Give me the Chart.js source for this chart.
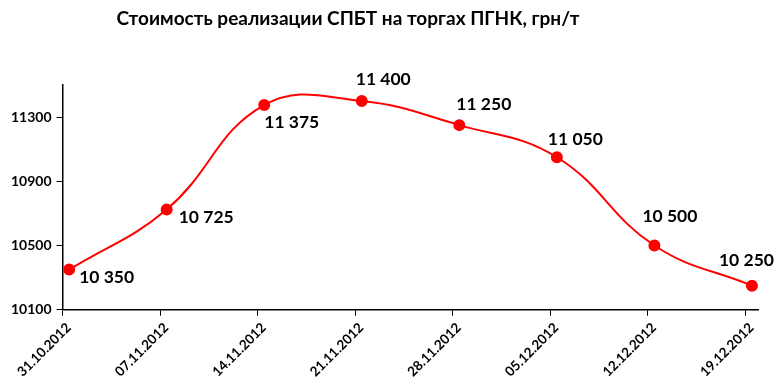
<!DOCTYPE html>
<html>
<head>
<meta charset="utf-8">
<script src="https://cdn.jsdelivr.net/npm/chart.js@4.4.1/dist/chart.umd.min.js"></script>
<style>
html,body{margin:0;padding:0;background:#fff;}
#wrap{width:776px;height:384px;position:relative;}
</style>
</head>
<body>
<div id="wrap"><canvas id="c" width="776" height="384"></canvas></div>
<script>
const chartTitle = "Стоимость реализации СПБТ на торгах ПГНК, грн/т";
const categories = ["31.10.2012","07.11.2012","14.11.2012","21.11.2012","28.11.2012","05.12.2012","12.12.2012","19.12.2012"];
const prices = [10350, 10725, 11375, 11400, 11250, 11050, 10500, 10250];
const yTicks = [10100, 10500, 10900, 11300];

// label placement per point: [dx, dy]
const labelPlacement = [
  [10, 8], [12, 8], [0, 17], [-6, -22],
  [-3, -21], [-9, -18], [-12, -29], [-33, -25]
];

function fmt(v){ return String(v).replace(/\B(?=(\d{3})+(?!\d))/g, ' '); }

const FONT = "Lato, 'Open Sans', 'DejaVu Sans', sans-serif";
const TICK_SHIFT = 0.067;

const labelPlugin = {
  id: 'labels',
  afterDatasetsDraw(chart){
    const ctx = chart.ctx;
    const meta = chart.getDatasetMeta(0);
    ctx.save();
    ctx.fillStyle = '#000';
    ctx.font = "bold 17.5px " + FONT;
    ctx.textBaseline = 'middle';
    ctx.textAlign = 'left';
    meta.data.forEach((pt, i) => {
      const p = labelPlacement[i];
      ctx.fillText(fmt(prices[i]), pt.x + p[0], pt.y + p[1]);
    });
    ctx.restore();
  }
};

const titlePlugin = {
  id: 'customTitle',
  afterDraw(chart){
    const ctx = chart.ctx;
    ctx.save();
    ctx.fillStyle = '#000';
    ctx.font = "bold 19px " + FONT;
    ctx.textAlign = 'center';
    ctx.textBaseline = 'middle';
    ctx.fillText(chartTitle, 348, 19);
    ctx.restore();
  }
};

new Chart(document.getElementById('c'), {
  type: 'line',
  data: {
    datasets: [{
      data: prices.map((v, i) => ({ x: i, y: v })),
      borderColor: '#ff0000',
      backgroundColor: '#ff0000',
      borderWidth: 2,
      pointRadius: 5,
      pointHoverRadius: 5,
      pointBackgroundColor: '#ff0000',
      pointBorderColor: '#ff0000',
      tension: 0.42,
      fill: false
    }]
  },
  options: {
    responsive: false,
    animation: false,
    events: [],
    layout: { padding: { top: 85, left: 6, right: 18, bottom: 0 } },
    plugins: { legend: { display: false }, tooltip: { enabled: false }, title: { display: false } },
    scales: {
      x: {
        type: 'linear',
        min: -TICK_SHIFT, max: categories.length - 1 + 0.062,
        afterBuildTicks(axis){ axis.ticks = categories.map((c, i) => ({ value: i - TICK_SHIFT })); },
        grid: { drawOnChartArea: false, drawTicks: true, tickLength: 6, color: '#000' },
        border: { color: '#000', width: 1.5 },
        ticks: {
          color: '#000',
          font: { family: FONT, weight: 'bold', size: 13.5 },
          maxRotation: 45, minRotation: 45, autoSkip: false, padding: 4,
          labelOffset: 6,
          callback: (v, idx) => categories[idx]
        }
      },
      y: {
        min: 10100, max: 11500,
        afterBuildTicks(axis){ axis.ticks = yTicks.map(v => ({ value: v })); },
        grid: { drawOnChartArea: false, drawTicks: true, tickLength: 6, color: '#000' },
        border: { color: '#000', width: 1.5 },
        ticks: {
          color: '#000',
          font: { family: FONT, weight: 'bold', size: 14 },
          padding: 5,
          callback: (v) => String(v)
        }
      }
    }
  },
  plugins: [labelPlugin, titlePlugin]
});
</script>
</body>
</html>
